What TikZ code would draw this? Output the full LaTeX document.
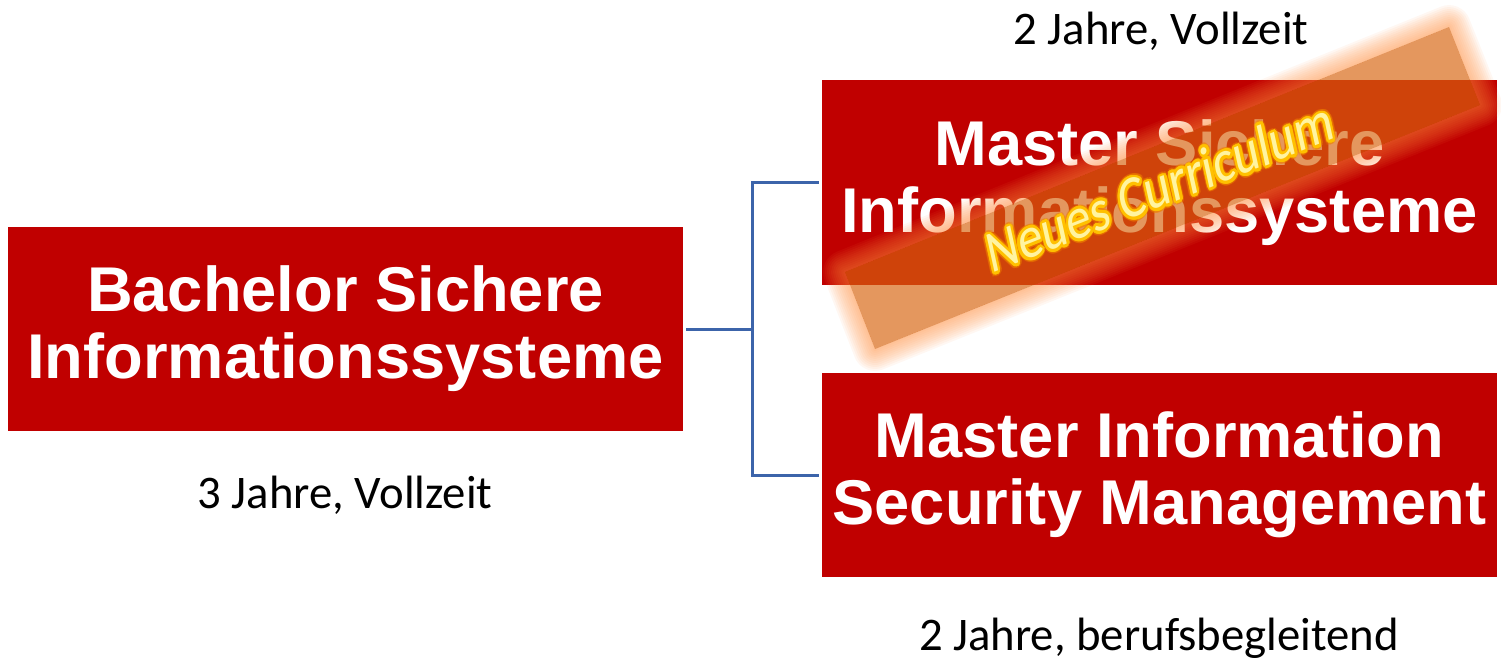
\documentclass[tikz,border=0pt]{standalone}
\usepackage{fontspec}
\setmainfont{Liberation Sans}
\newfontfamily\calfont{Carlito}
\definecolor{boxred}{HTML}{C00000}
\definecolor{linkblue}{HTML}{3C64AA}
\definecolor{bannerc}{HTML}{D7640F}
\definecolor{glowc}{RGB}{255,140,60}
\definecolor{halocol}{RGB}{240,130,0}
\definecolor{ncline}{RGB}{255,192,0}
\definecolor{ncfill}{RGB}{255,244,160}
\begin{document}
\begin{tikzpicture}[x=0.02cm,y=-0.02cm,
  prog/.style={fill=boxred, text=white, font=\bfseries\fontsize{36}{38}\selectfont,
    align=center, minimum width=13.5cm, minimum height=4.08cm, inner sep=0pt},
  dur/.style={font=\calfont\fontsize{26.6}{30}\selectfont, anchor=base, inner sep=0pt},
  link/.style={draw=linkblue, line width=1.7pt},
  nc/.style={rotate=21.5, xslant=0.16, xscale=0.88, anchor=base, inner sep=0pt, font=\calfont\fontsize{33}{40}\selectfont}]
\useasboundingbox (0,0) rectangle (1501,657);

% programme boxes
\node[prog] (bach) at (345.5,329) {Bachelor Sichere\\Informationssysteme};
\node[prog, minimum height=4.1cm] (msi) at (1159.5,182.5) {Master Sichere\\Informationssysteme};
\node[prog] (mism) at (1159.5,475) {Master Information\\Security Management};

% durations
\node[dur] (l1) at (1161,44) {2 Jahre, Vollzeit};
\node[dur] (l2) at (345,508) {3 Jahre, Vollzeit};
\node[dur] (l3) at (1159,650) {2 Jahre, berufsbegleitend};

% connectors
\coordinate (jn) at (752,329);
\draw[link, shorten <=1.7pt] (bach.east) -- (jn);
\draw[link, shorten <=1.7pt, shorten >=1.7pt] (msi.west) -| (jn) |- (mism.west);

% banner
\coordinate (b1) at (845,272);
\coordinate (b2) at (1449,27);
\coordinate (b3) at (1480,105);
\coordinate (b4) at (875,349);
\begin{scope}[even odd rule]
  \clip (0,0) rectangle (1501,657) (b1) -- (b2) -- (b3) -- (b4) -- cycle;
  \foreach \w in {44,40,...,4}
    \draw[draw=glowc, draw opacity=0.065, line width=\w*0.567pt, line join=round]
      (b1) -- (b2) -- (b3) -- (b4) -- cycle;
\end{scope}
\fill[bannerc, fill opacity=0.67] (b1) -- (b2) -- (b3) -- (b4) -- cycle;

% banner text
\coordinate (tb) at (1164,206);
\foreach \a in {0,22.5,...,337.5}
  \node[nc, text=halocol, text opacity=0.35, shift={(\a:2.5pt)}] at (tb) {Neues Curriculum};
\foreach \a in {0,22.5,...,337.5}
  \node[nc, text=ncline, shift={(\a:1.6pt)}] at (tb) {Neues Curriculum};
\node[nc, text=ncfill] (nctext) at (tb) {Neues Curriculum};
\end{tikzpicture}
\end{document}
